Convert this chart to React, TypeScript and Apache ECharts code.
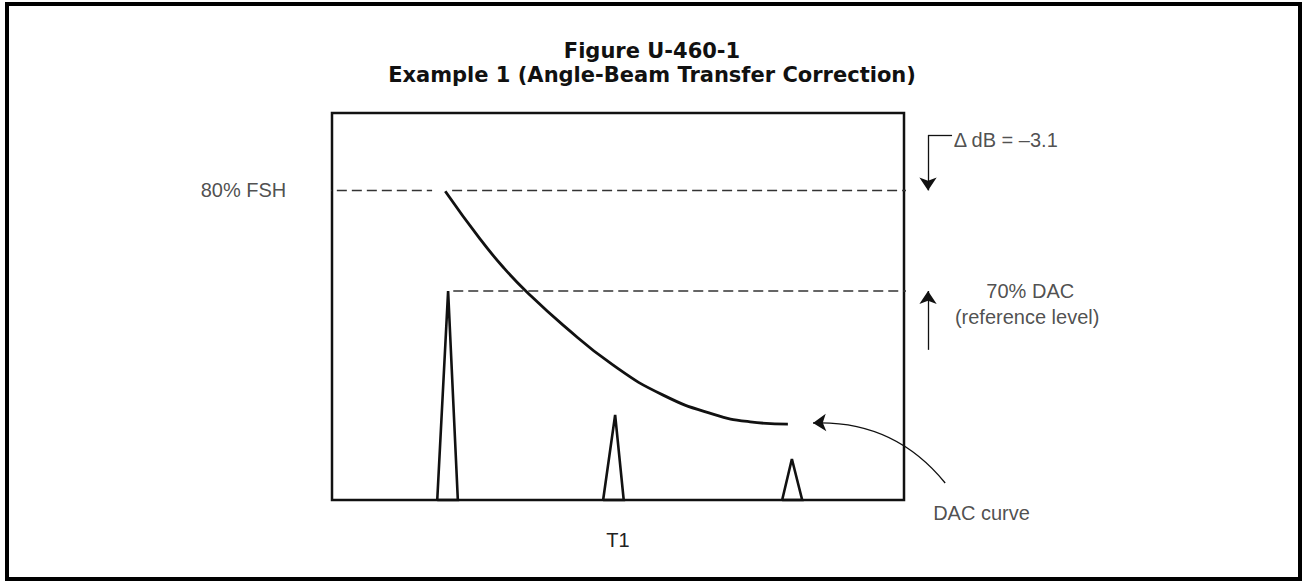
import { useEffect, useRef } from 'react';
import * as echarts from 'echarts';

// ---- text ----
const titleLines = ['Figure U-460-1', 'Example 1 (Angle-Beam Transfer Correction)'];
const xAxisName = 'T1';

// ---- reference levels (% of screen height) ----
const fshLevel = 80;
const dacRefLevel = 54;
const fshLeftSpan = [-4.4, 17.5];
const fshRightSpan = [21.0, 110.1];
const dacRefSpan = [21.2, 110.1];

// ---- DAC curve (time base %, amplitude %) ----
const dacCurveX = [19.8, 25.9, 29.9, 34.1, 40.4, 49.1, 57.9, 66.6, 73.1, 79.7];
const dacCurveY = [79.8, 67.4, 60.2, 53.7, 45.2, 34.9, 27.1, 22.2, 20.2, 19.6];

// ---- echo peaks ----
const peakLeftX = [18.4, 47.4, 78.7];
const peakTopX = [20.3, 49.5, 80.4];
const peakRightX = [22.0, 51.0, 82.2];
const peakHeights = [54.0, 22.0, 10.6];

// ---- annotations ----
const labelTexts = ['80% FSH', '\u0394 dB = \u20133.1', '70% DAC', '(reference level)', 'DAC curve'];
const labelX = [-8.0, 108.7, 114.4, 108.9, 105.1];
const labelY = [80, 93.0, 54, 47.3, -3.4];
const labelSide = ['left', 'right', 'right', 'right', 'right'];

const bracketFrom = [108.4, 94.3];
const bracketCorner = [104.2, 94.3];
const bracketTo = [104.2, 80];
const refArrowFrom = [104.2, 38.8];
const refArrowTo = [104.2, 54];
const curveArrowFrom = [107.2, 4.4];
const curveArrowTo = [84.1, 19.9];

const LABEL_FONT = '"Liberation Sans", Arial, sans-serif';
const TITLE_STYLE = {
  fontFamily: '"DejaVu Sans", sans-serif',
  fontWeight: 'bold',
  fontSize: 21,
  color: '#111',
};

export default function App() {
  const ref = useRef<HTMLDivElement>(null);
  useEffect(() => {
    if (!ref.current) return;
    const chart = echarts.init(ref.current, null, { renderer: 'svg' });
    const dash = { color: '#333', width: 1.5, type: [10, 5] as any };
    const peakSeries = peakTopX.map((tx, i) => ({
      type: 'line',
      name: 'peak' + (i + 1),
      data: [
        [peakLeftX[i], 0],
        [tx, peakHeights[i]],
        [peakRightX[i], 0],
        [peakLeftX[i], 0],
      ],
      symbol: 'none',
      lineStyle: { color: '#111', width: 2.6, join: 'miter' },
      clip: false,
      z: 4,
    }));
    chart.setOption({
      animation: false,
      backgroundColor: '#fff',
      title: [
        { text: titleLines[0], left: 'center', top: 35, textStyle: TITLE_STYLE },
        { text: titleLines[1], left: 'center', top: 59, textStyle: TITLE_STYLE },
      ],
      graphic: [
        {
          type: 'rect',
          shape: { x: 7, y: 4, width: 1293, height: 575 },
          style: { fill: 'none', stroke: '#000', lineWidth: 4 },
          silent: true,
        },
      ],
      grid: {
        left: 332,
        top: 113,
        width: 572,
        height: 387,
        show: true,
        borderColor: '#111',
        borderWidth: 2.5,
        containLabel: false,
        outerBoundsMode: 'none',
      },
      xAxis: {
        type: 'value',
        min: 0,
        max: 100,
        name: xAxisName,
        nameLocation: 'middle',
        nameGap: 30,
        nameTextStyle: { fontFamily: LABEL_FONT, fontSize: 20, color: '#222' },
        axisLine: { show: false },
        axisTick: { show: false },
        axisLabel: { show: false },
        splitLine: { show: false },
      },
      yAxis: {
        type: 'value',
        min: 0,
        max: 100,
        axisLine: { show: false },
        axisTick: { show: false },
        axisLabel: { show: false },
        splitLine: { show: false },
      },
      series: [
        {
          type: 'line',
          name: '80% FSH left',
          data: [
            [fshLeftSpan[0], fshLevel],
            [fshLeftSpan[1], fshLevel],
          ],
          symbol: 'none',
          lineStyle: dash,
          clip: false,
        },
        {
          type: 'line',
          name: '80% FSH right',
          data: [
            [fshRightSpan[0], fshLevel],
            [fshRightSpan[1], fshLevel],
          ],
          symbol: 'none',
          lineStyle: dash,
          clip: false,
        },
        {
          type: 'line',
          name: '70% DAC',
          data: [
            [dacRefSpan[0], dacRefLevel],
            [dacRefSpan[1], dacRefLevel],
          ],
          symbol: 'none',
          lineStyle: dash,
          clip: false,
        },
        {
          type: 'line',
          name: 'DAC curve',
          data: dacCurveX.map((x, i) => [x, dacCurveY[i]]),
          smooth: 0.5,
          symbol: 'none',
          lineStyle: { color: '#111', width: 2.8 },
          clip: false,
          z: 5,
        },
        ...peakSeries,
        {
          type: 'lines',
          coordinateSystem: 'cartesian2d',
          clip: false,
          silent: true,
          symbol: 'none',
          lineStyle: { color: '#111', width: 1.3, opacity: 1 },
          data: [{ coords: [bracketFrom, bracketCorner] }],
        },
        {
          type: 'lines',
          coordinateSystem: 'cartesian2d',
          clip: false,
          silent: true,
          symbol: ['none', 'arrow'],
          symbolSize: [7, 13],
          lineStyle: { color: '#111', width: 1.3, opacity: 1 },
          data: [
            { coords: [bracketCorner, bracketTo] },
            { coords: [refArrowFrom, refArrowTo] },
            { coords: [curveArrowFrom, curveArrowTo], lineStyle: { curveness: -0.25 } },
          ],
        },
        {
          type: 'scatter',
          name: 'annotations',
          symbolSize: 0,
          clip: false,
          silent: true,
          data: labelTexts.map((t, i) => ({
            value: [labelX[i], labelY[i]],
            label: {
              show: true,
              position: labelSide[i],
              distance: 0,
              formatter: t,
              fontFamily: LABEL_FONT,
              fontSize: 20,
              color: '#222',
            },
          })),
        },
      ],
    } as any);
    return () => chart.dispose();
  }, []);
  return (
    <div
      ref={ref}
      style={{ position: 'fixed', left: 0, top: 0, width: 1304, height: 581, background: '#fff' }}
    />
  );
}
